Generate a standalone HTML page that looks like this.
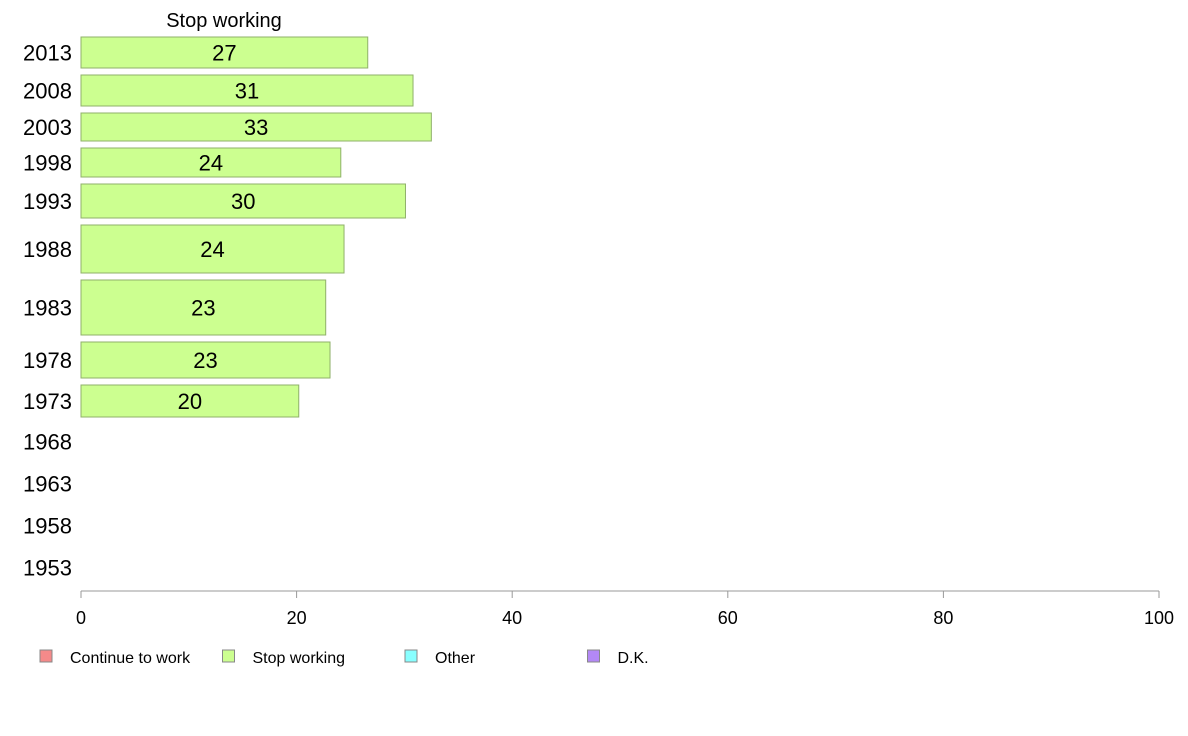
<!DOCTYPE html>
<html><head><meta charset="utf-8"><style>
html,body{margin:0;padding:0;background:#fff;}
svg{display:block;font-family:"Liberation Sans",Arial,sans-serif;}
</style></head><body>
<svg id="chart" width="1188" height="736" xmlns="http://www.w3.org/2000/svg">
<text x="224" y="27" font-size="20" text-anchor="middle">Stop working</text>
<g id="bars"></g>
<g id="axis"></g>
<g id="legend"></g>
</svg>
<script>
const years = ["2013","2008","2003","1998","1993","1988","1983","1978","1973","1968","1963","1958","1953"];
const values = [26.6, 30.8, 32.5, 24.1, 30.1, 24.4, 22.7, 23.1, 20.2, null, null, null, null];
const weights = [31, 31, 28, 29, 34, 48, 55, 36, 32, 35, 35, 35, 35];
const ticks = [0, 20, 40, 60, 80, 100];
const legendLabels = ["Continue to work", "Stop working", "Other", "D.K."];
const legendColors = ["#f58a8a", "#ccff90", "#88ffff", "#b388f5"];

const NS = "http://www.w3.org/2000/svg";
const x0 = 81, x1 = 1159, topY = 37, gap = 7, axisY = 591;
const xs = v => x0 + (x1 - x0) * v / 100;
function mk(tag, attrs, parent, text) {
  const e = document.createElementNS(NS, tag);
  for (const k in attrs) e.setAttribute(k, attrs[k]);
  if (text !== undefined) e.textContent = text;
  parent.appendChild(e);
  return e;
}
const bars = document.getElementById("bars");
let y = topY;
years.forEach((yr, i) => {
  const h = weights[i];
  const cy = y + h / 2;
  const lab = mk("text", {x: 72, y: cy + 8, "font-size": 22, "text-anchor": "end"}, bars, yr);
  
  
  if (values[i] !== null) {
    const r = mk("rect", {x: xs(0), y: y, width: xs(values[i]) - xs(0), height: h, fill: "#ccff90", stroke: "#8fb06a", "stroke-width": 1}, bars);
    
    
    const t = mk("text", {x: (xs(0) + xs(values[i])) / 2, y: cy + 8, "font-size": 22, "text-anchor": "middle"}, bars, Math.round(values[i]));
    
    
  }
  y += h + gap;
});
const axis = document.getElementById("axis");
mk("line", {x1: x0, x2: x1, y1: axisY, y2: axisY, stroke: "#999", "stroke-width": 1}, axis);
ticks.forEach(t => {
  mk("line", {x1: xs(t), x2: xs(t), y1: axisY, y2: axisY + 7, stroke: "#999"}, axis);
  const tl = mk("text", {x: xs(t), y: 624, "font-size": 18, "text-anchor": "middle"}, axis, t);
  
  
});
const legend = document.getElementById("legend");
legendLabels.forEach((l, i) => {
  const lx = 40 + i * 182.5;
  const g = mk("g", {}, legend);
  
  
  mk("rect", {x: lx, y: 650, width: 12, height: 12, fill: legendColors[i], stroke: "#888"}, g);
  mk("text", {x: lx + 30, y: 663, "font-size": 16}, g, l);
});
</script>
</body></html>
